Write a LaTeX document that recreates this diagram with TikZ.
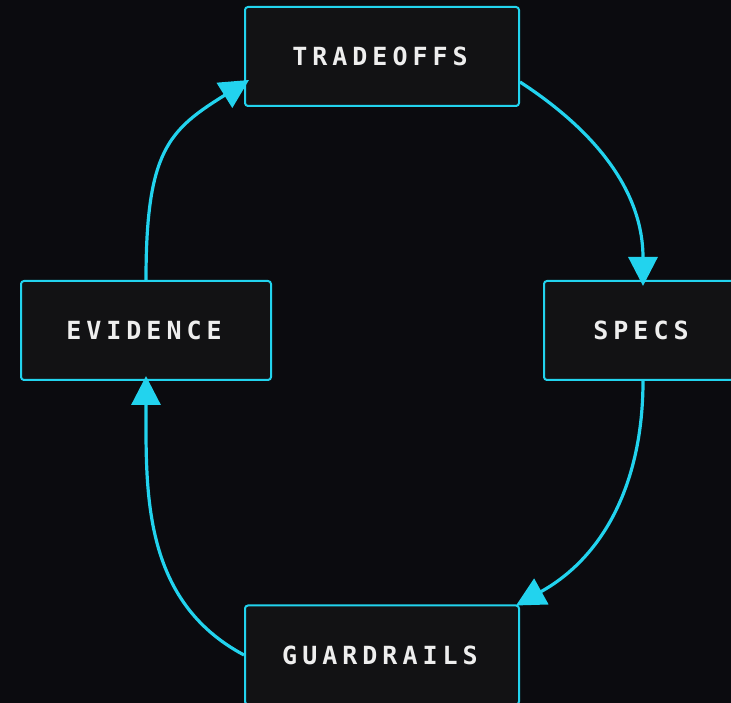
\documentclass[tikz,border=0pt]{standalone}
\usepackage{fontspec}
\usetikzlibrary{arrows.meta}
\newfontfamily\labelfont[LetterSpace=20]{DejaVu Sans Mono}

\definecolor{pagebg}{RGB}{11,11,15}
\definecolor{boxbg}{RGB}{18,18,20}
\definecolor{accent}{HTML}{22D3EE}
\definecolor{labeltext}{RGB}{238,238,238}

% letter-spaced label, with the spacing after the last letter balanced out
\newcommand\spacedlabel[1]{#1\kern4pt}

\begin{document}
\begin{tikzpicture}[x=1pt,y=1pt,
  stage/.style={draw=accent, line width=2pt, fill=boxbg, rounded corners=3pt,
    minimum height=99pt, inner sep=0pt, text=labeltext,
    font=\labelfont\bfseries\fontsize{25}{30}\selectfont},
  flow/.style={draw=accent, line width=3.2pt,
    -{Triangle[length=29pt,width=29pt]}}]
  \fill[pagebg] (0,0) rectangle (731,703);
  \useasboundingbox (0,0) rectangle (731,703);
  \clip (0,0) rectangle (731,703);

  % the four stages of the cycle
  \node[stage, minimum width=274pt] (trade) at (382,646.5) {\spacedlabel{TRADEOFFS}};
  \node[stage, minimum width=250pt] (evid)  at (146,372.5) {\spacedlabel{EVIDENCE}};
  \node[stage, minimum width=198pt] (specs) at (643,372.5) {\spacedlabel{SPECS}};
  \node[stage, minimum width=274pt] (guard) at (382,48)    {\spacedlabel{GUARDRAILS}};

  % curved connectors running clockwise
  \draw[flow] (evid.north) .. controls +(0,130) and +(-80,-50) ..
    ([xshift=5pt,yshift=-23.5pt]trade.west);
  \draw[flow] ([yshift=-25.5pt]trade.east) to[out=-33,in=90]
    ([yshift=-6pt]specs.north);
  \draw[flow] (specs.south) to[out=-90,in=29]
    ([xshift=-4pt,yshift=-1pt]guard.north east);
  \draw[flow] (guard.west) to[out=152,in=-90]
    ([yshift=5pt]evid.south);
\end{tikzpicture}
\end{document}
